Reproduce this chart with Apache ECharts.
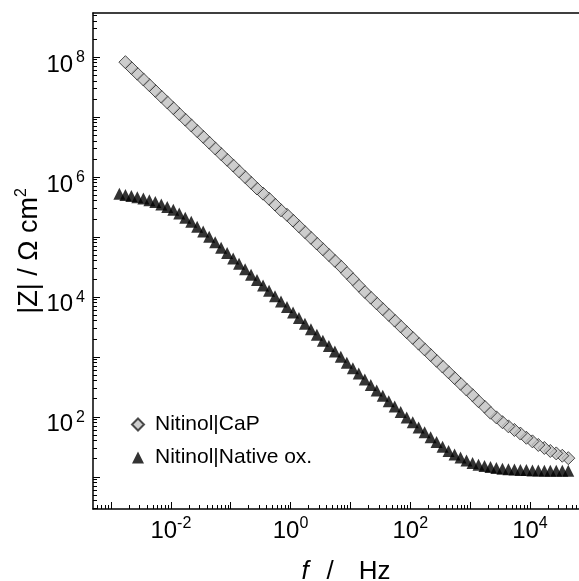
<!DOCTYPE html>
<html>
<head>
<meta charset="utf-8">
<title>Bode |Z|</title>
<script src="https://cdn.jsdelivr.net/npm/echarts@6/dist/echarts.min.js"></script>
<style>
html,body{margin:0;padding:0;background:#fff;}
#main{width:579px;height:581px;}
</style>
</head>
<body>
<div id="main"></div>
<script>
// measured frequencies, Hz (high -> low)
var freqHz = [43700, 34700, 27500, 21900, 17400, 13800, 11000,
    8710, 6920, 5500, 4370, 3470, 2750, 2190, 1740, 1380, 1100,
    871, 692, 550, 437, 347, 275, 219, 174, 138, 110,
    87.1, 69.2, 55.0, 43.7, 34.7, 27.5, 21.9, 17.4, 13.8, 11.0,
    8.71, 6.92, 5.50, 4.37, 3.47, 2.75, 2.19, 1.74, 1.38, 1.10,
    0.871, 0.692, 0.550, 0.437, 0.347, 0.275, 0.219, 0.174, 0.138, 0.110,
    0.0871, 0.0692, 0.0550, 0.0437, 0.0347, 0.0275, 0.0219, 0.0174, 0.0138, 0.0110,
    0.00871, 0.00692, 0.00550, 0.00437, 0.00347, 0.00275, 0.00219, 0.00174, 0.00138];

// |Z| / Ohm cm2, Nitinol|CaP (same frequencies, last one missing)
var zCaP = [20.4, 22.4, 24.5, 26.9, 30.2, 33.9, 38.9,
    44.7, 52.5, 60.3, 69.2, 81.3, 97.7, 117, 148, 182, 229,
    285, 356, 443, 552, 689, 859, 1070, 1330, 1660, 2070,
    2580, 3220, 4020, 5010, 6240, 7780, 9700, 12100, 15400, 19700,
    25100, 32100, 39900, 49800, 62100, 77400, 96400, 120000, 150000, 187000,
    233000, 277000, 346000, 432000, 525000, 640000, 798000, 995000, 1240000, 1550000,
    1930000, 2400000, 2990000, 3730000, 4660000, 5810000, 7230000, 9020000, 11200000, 14000000,
    17500000, 21800000, 27200000, 33900000, 42200000, 52600000, 65600000, 81800000];

// |Z| / Ohm cm2, Nitinol|Native ox.
var zNative = [12.6, 12.6, 12.6, 12.6, 12.6, 12.7, 12.7,
    12.9, 13.0, 13.2, 13.3, 13.6, 14.0, 14.5, 15.1, 15.8, 17.0,
    18.6, 20.9, 23.4, 26.9, 31.6, 38.0, 45.7, 55.0, 66.1, 81.3,
    97.7, 120, 148, 182, 224, 275, 339, 417, 525, 646,
    794, 1000, 1230, 1510, 1860, 2340, 2880, 3550, 4420, 5500,
    6760, 8320, 10200, 12600, 15500, 19100, 23400, 28800, 35500, 43700,
    53700, 66100, 81300, 100000, 123000, 148000, 178000, 209000, 245000, 282000,
    316000, 347000, 380000, 407000, 437000, 457000, 479000, 501000, 525000];

var seriesNames = ['Nitinol|CaP', 'Nitinol|Native ox.'];

// axis ranges (raw) and decade ticks (exponents)
var xRange = [5e-4, 6.6e4];
var yRange = [2.9, 5.4e8];
var xDecades = [-3, -2, -1, 0, 1, 2, 3, 4];
var xLabelDecades = [-2, 0, 2, 4];
var yDecades = [1, 2, 3, 4, 5, 6, 7, 8];
var yLabelDecades = [2, 4, 6, 8];

var FONT = 'Liberation Sans, Arial, sans-serif';

function toPts(f, z) {
    var out = [];
    for (var i = 0; i < z.length; i++) {
        out.push([Math.log10(f[i]), Math.log10(z[i])]);
    }
    return out;
}

// 2..9 x 10^n inside the range (log space)
function minorTicks(lo, hi) {
    var out = [];
    for (var d = Math.floor(lo); d <= Math.ceil(hi); d++) {
        for (var m = 2; m <= 9; m++) {
            var v = d + Math.log10(m);
            if (v > lo + 1e-6 && v < hi - 1e-6) out.push(v);
        }
    }
    return out;
}

var lx = [Math.log10(xRange[0]), Math.log10(xRange[1])];
var ly = [Math.log10(yRange[0]), Math.log10(yRange[1])];

var blackLine = {color: '#000', width: 1};

function powRich(gap) {
    return {
        a: {fontSize: 24, fontFamily: FONT, color: '#000', lineHeight: 30},
        b: {fontSize: 16, fontFamily: FONT, color: '#000', lineHeight: 14, verticalAlign: 'top', padding: [0, 0, 0, gap]}
    };
}
function powLabel(v) {
    return '{a|10}{b|' + Math.round(v) + '}';
}

function plainAxis(min, max, pos) {
    return {
        type: 'value', position: pos, min: min, max: max,
        axisLine: {show: false, onZero: false},
        axisTick: {show: false},
        axisLabel: {show: false},
        splitLine: {show: false}
    };
}

// 主轴
var xMain = plainAxis(lx[0], lx[1], 'bottom');
xMain.axisLine = {show: true, onZero: false, lineStyle: {color: '#000', width: 1.5}};
xMain.axisTick = {show: true, inside: true, length: 7, customValues: xDecades, lineStyle: blackLine};
xMain.axisLabel = {show: true, customValues: xLabelDecades, margin: 7, formatter: powLabel, rich: powRich(0)};
xMain.name = '{i|f}{t|/}{h|Hz}';
xMain.nameLocation = 'middle';
xMain.nameGap = 50;
xMain.nameTextStyle = {
    padding: [0, 0, 0, 20],
    rich: {
        i: {fontSize: 26, fontFamily: FONT, fontStyle: 'italic', color: '#000', padding: [0, 18, 0, 0]},
        t: {fontSize: 26, fontFamily: FONT, color: '#000', padding: [0, 25, 0, 0]},
        h: {fontSize: 26, fontFamily: FONT, color: '#000'}
    }
};
// minor ticks
var xMinor = plainAxis(lx[0], lx[1], 'bottom');
xMinor.axisTick = {show: true, inside: true, length: 4, customValues: minorTicks(lx[0], lx[1]), lineStyle: blackLine};
// top frame line
var xTop = plainAxis(lx[0], lx[1], 'top');
xTop.axisLine = {show: true, onZero: false, lineStyle: {color: '#000', width: 1.5}};

var yMain = plainAxis(ly[0], ly[1], 'left');
yMain.axisLine = {show: true, onZero: false, lineStyle: {color: '#000', width: 1.5}};
yMain.axisTick = {show: true, inside: true, length: 7, customValues: yDecades, lineStyle: blackLine};
yMain.axisLabel = {show: true, customValues: yLabelDecades, margin: 8, padding: [16, 0, 0, 0], formatter: powLabel, rich: powRich(3)};
yMain.name = '{n||Z| / Ω cm}{s|2}';
yMain.nameLocation = 'middle';
yMain.nameGap = 47;
yMain.nameMoveOverlap = false;
yMain.nameRotate = 90;
yMain.nameTextStyle = {
    padding: [0, 0, 0, 20],
    rich: {
        n: {fontSize: 27, fontFamily: FONT, color: '#000', lineHeight: 32},
        s: {fontSize: 16, fontFamily: FONT, color: '#000', lineHeight: 14, verticalAlign: 'top'}
    }
};
var yMinor = plainAxis(ly[0], ly[1], 'left');
yMinor.axisTick = {show: true, inside: true, length: 4, customValues: minorTicks(ly[0], ly[1]), lineStyle: blackLine};

var option = {
    backgroundColor: '#fff',
    animation: false,
    grid: {left: 93, top: 13, right: 0, bottom: 72, containLabel: false, outerBoundsMode: 'none'},
    legend: {
        orient: 'vertical',
        left: 126,
        top: 409,
        itemWidth: 12,
        itemHeight: 12,
        itemGap: 12,
        textStyle: {fontSize: 21, fontFamily: FONT, color: '#000', padding: [0, 0, 0, 6]},
        data: seriesNames
    },
    xAxis: [xMain, xMinor, xTop],
    yAxis: [yMain, yMinor],
    series: [
        {
            name: seriesNames[0],
            type: 'scatter',
            xAxisIndex: 0, yAxisIndex: 0,
            symbol: 'diamond',
            symbolSize: 13,
            itemStyle: {color: '#c0c0c0', borderColor: '#222', borderWidth: 1},
            data: toPts(freqHz, zCaP)
        },
        {
            name: seriesNames[1],
            type: 'scatter',
            xAxisIndex: 0, yAxisIndex: 0,
            symbol: 'triangle',
            symbolSize: 12,
            itemStyle: {color: '#000'},
            data: toPts(freqHz, zNative)
        }
    ]
};

var myChart = echarts.init(document.getElementById('main'));
myChart.setOption(option);
</script>
</body>
</html>
